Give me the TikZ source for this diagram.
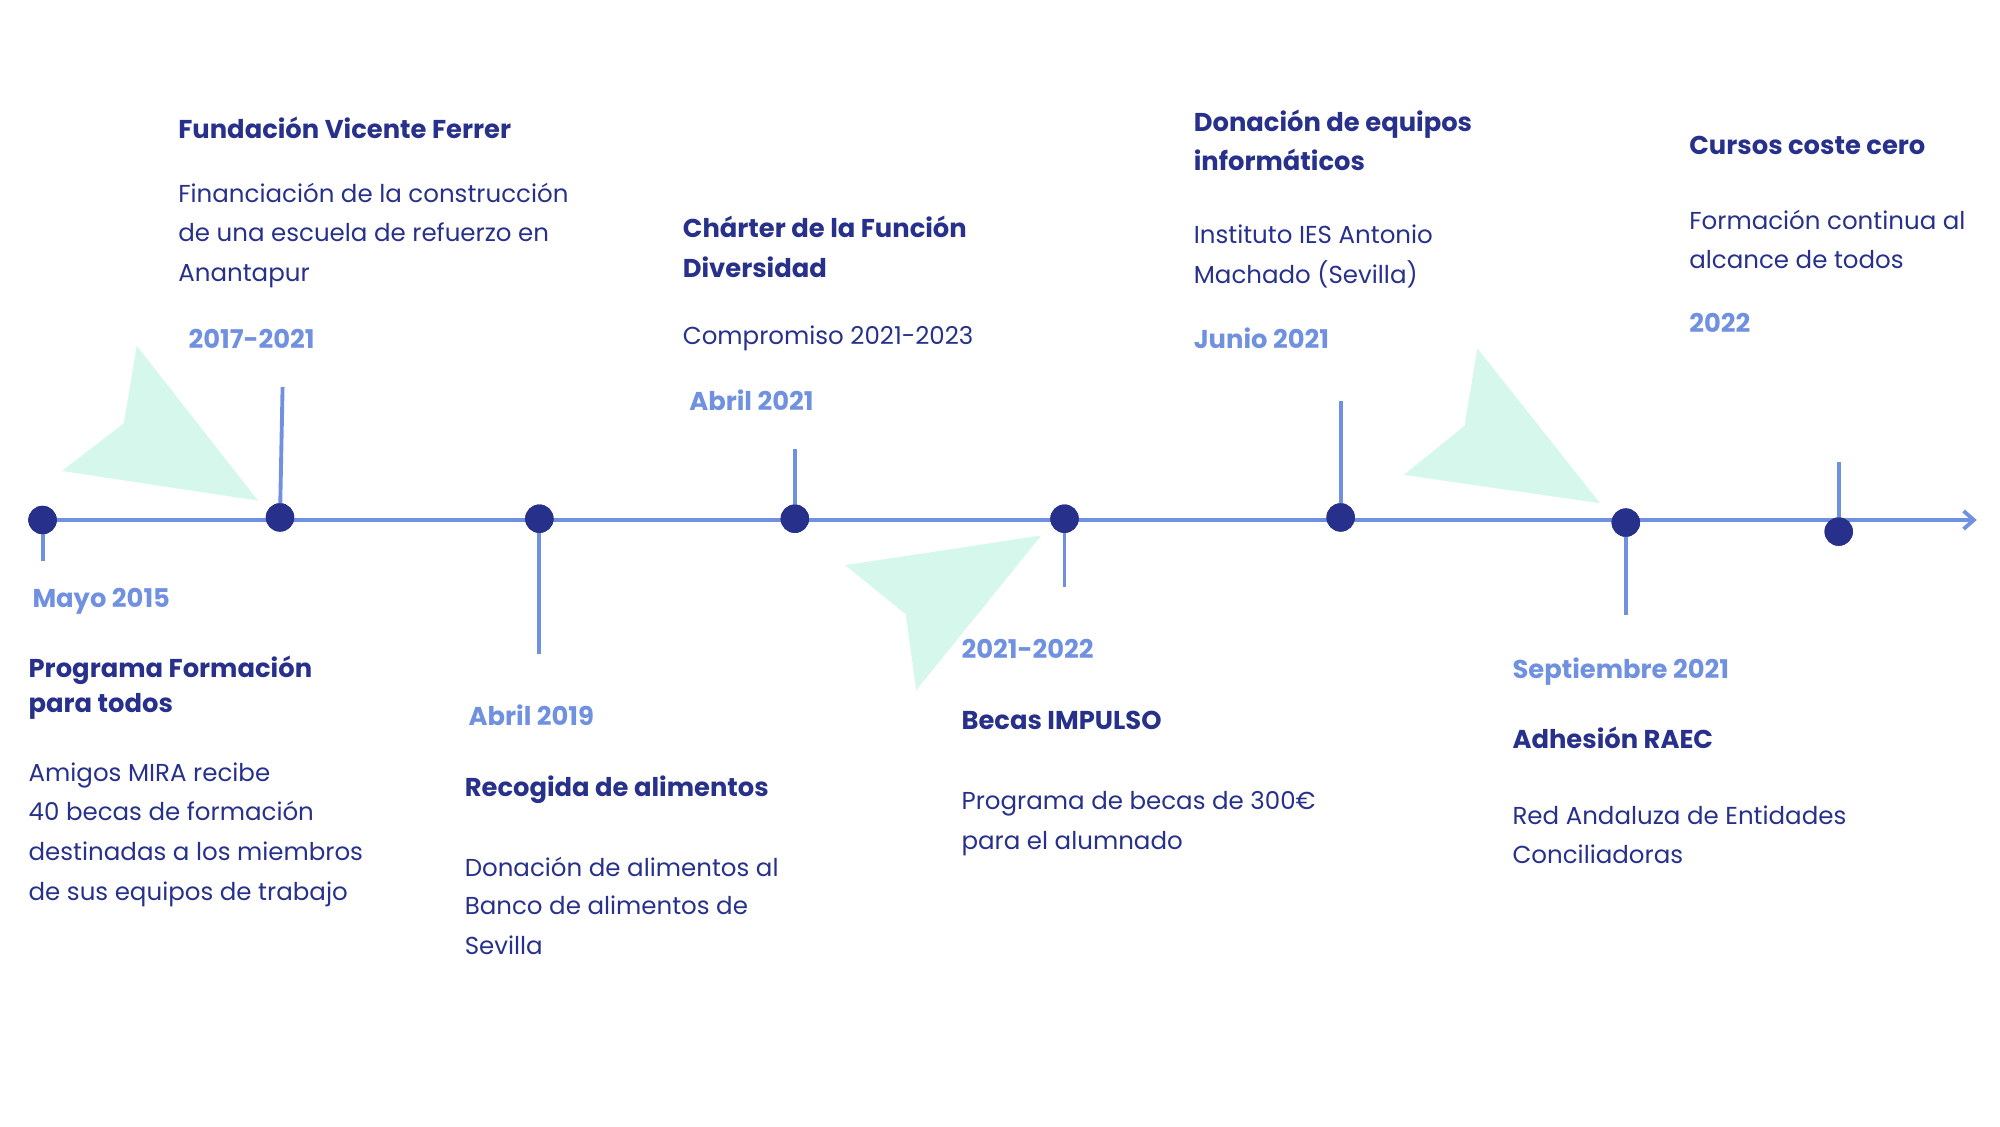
\documentclass[tikz,border=0pt]{standalone}
\usepackage{fontspec}
\setmainfont{Poppins}
\usetikzlibrary{arrows.meta}
\definecolor{navy}{HTML}{27318B}
\definecolor{lblue}{HTML}{7090E0}
\definecolor{mint}{HTML}{D5F7EC}
\tikzset{
 dot/.style={circle,fill=navy,inner sep=0,minimum size=22},
 tick/.style={draw=lblue,line width=3},
 body/.style={anchor=base west,inner sep=0,text=navy,font=\fontsize{19}{31}\selectfont},
 head/.style={anchor=base west,inner sep=0,text=navy,font=\fontsize{20}{26}\bfseries\selectfont},
 date/.style={anchor=base west,inner sep=0,text=lblue,font=\fontsize{20}{26}\bfseries\selectfont},
}
\begin{document}
\begin{tikzpicture}[x=1pt,y=-1pt]
\useasboundingbox (0,0) rectangle (1550,873);
% mint shapes
\fill[mint] (48,365)--(96,328)--(106,268)--(200,388)--cycle;
\fill[mint] (655,438)--(807,415)--(710,535)--(702,476)--cycle;
\fill[mint] (1088,368)--(1135,330)--(1145,270)--(1240,390)--cycle;
% axis
\coordinate (s) at (22,403);
\coordinate (e) at (1532,403);
\draw[lblue,line width=3,-{Straight Barb[length=8,width=14]}] (s)--(e);
% dots and ticks
\node[dot] (d1) at (33,403) {}; \coordinate (t1) at (33,435);
\node[dot] (d2) at (217,401) {}; \coordinate (t2) at (219,300);
\node[dot] (d3) at (418,402) {}; \coordinate (t3) at (418,507);
\node[dot] (d4) at (616,402) {}; \coordinate (t4) at (616,348);
\node[dot] (d5) at (825,402) {}; \coordinate (t5) at (825,455);
\node[dot] (d6) at (1039,401) {}; \coordinate (t6) at (1039,311);
\node[dot] (d7) at (1260,405) {}; \coordinate (t7) at (1260,477);
\node[dot] (d8) at (1425,412) {}; \coordinate (t8) at (1425,358);
\foreach \i in {1,...,8} \draw[tick] (d\i.center)--(t\i);
\foreach \i in {1,...,8} \node[dot] at (d\i) {};
% texts
\node[head] (a1) at (138,107) {Fundación Vicente Ferrer};
\node[body] (a2) at (138,157) {Financiación de la construcción};
\node[body] (a3) at (138,187) {de una escuela de refuerzo en};
\node[body] (a4) at (138,218) {Anantapur};
\node[date] (a5) at (146,270) {2017-2021};

\node[date] (b1) at (25,471) {Mayo 2015};
\node[head] (b2) at (22,525) {Programa Formación};
\node[head] (b3) at (22,552) {para todos};
\node[body] (b4) at (22,606) {Amigos MIRA recibe};
\node[body] (b5) at (22,636) {40 becas de formación};
\node[body] (b6) at (22,667) {destinadas a los miembros};
\node[body] (b7) at (22,698) {de sus equipos de trabajo};

\node[date] (c1) at (363,562) {Abril 2019};
\node[head] (c2) at (360,617) {Recogida de alimentos};
\node[body] (c3) at (360,679) {Donación de alimentos al};
\node[body] (c4) at (360,709) {Banco de alimentos de};
\node[body] (c5) at (360,740) {Sevilla};

\node[head] (e1) at (529,184) {Chárter de la Función};
\node[head] (e2) at (529,215) {Diversidad};
\node[body] (e3) at (529,267) {Compromiso 2021-2023};
\node[date] (e4) at (534,318) {Abril 2021};

\node[date] (f1) at (745,510) {2021-2022};
\node[head] (f2) at (745,565) {Becas IMPULSO};
\node[body] (f3) at (745,627) {Programa de becas de 300€};
\node[body] (f4) at (745,658) {para el alumnado};

\node[head] (g1) at (925,102) {Donación de equipos};
\node[head] (g2) at (925,132) {informáticos};
\node[body] (g3) at (925,189) {Instituto IES Antonio};
\node[body] (g4) at (925,220) {Machado (Sevilla)};
\node[date] (g5) at (925,270) {Junio 2021};

\node[date] (h1) at (1172,526) {Septiembre 2021};
\node[head] (h2) at (1172,580) {Adhesión RAEC};
\node[body] (h3) at (1172,639) {Red Andaluza de Entidades};
\node[body] (h4) at (1172,669) {Conciliadoras};

\node[head] (k1) at (1309,120) {Cursos coste cero};
\node[body] (k2) at (1309,178) {Formación continua al};
\node[body] (k3) at (1309,208) {alcance de todos};
\node[date] (k4) at (1309,258) {2022};
\end{tikzpicture}
\end{document}
